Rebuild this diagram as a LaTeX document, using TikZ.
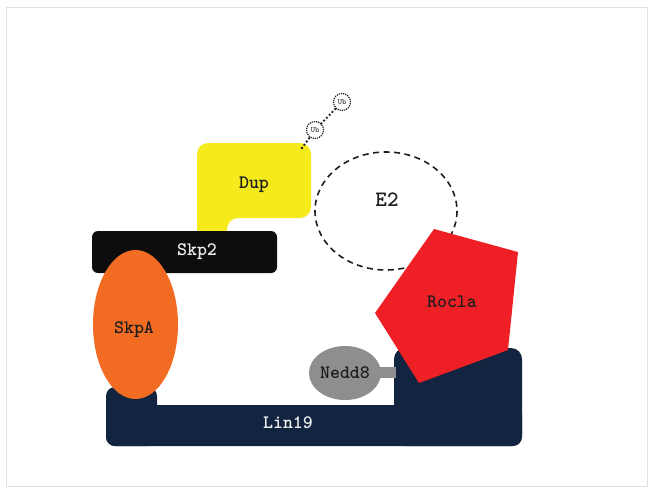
\documentclass[tikz,border=0pt]{standalone}
\usepackage{fontspec}
\definecolor{navy}{HTML}{12243F}
\definecolor{orangeA}{HTML}{F26B22}
\definecolor{yellowD}{HTML}{F4EA1C}
\definecolor{redR}{HTML}{EE2026}
\definecolor{grayN}{HTML}{8E8E8E}
\definecolor{frameC}{HTML}{E2E2E2}
\definecolor{inkC}{HTML}{1E1E1E}
\definecolor{paleC}{HTML}{EEEEEE}
\newcommand{\monobold}{\ttfamily\bfseries}
\tikzset{
  lbl/.style={inner sep=0pt, font=\fontsize{19}{21}\monobold, text=inkC},
  ubnode/.style={circle, draw=inkC, densely dotted, line width=1.2pt, minimum size=17pt, inner sep=0pt, font=\ttfamily\fontsize{8}{9}\selectfont, text=inkC},
  dotlink/.style={draw=inkC, line width=2.6pt, line cap=round, dash pattern=on 0pt off 4pt}
}
\begin{document}
\begin{tikzpicture}[x=1pt,y=-1pt]
\useasboundingbox (0,0) rectangle (653,493);
% frame
\draw[frameC, line width=1pt] (6,7) rectangle (647,486);
% E2 dashed ellipse
\draw[inkC, line width=1.6pt, dash pattern=on 6pt off 4.5pt] (386,211) ellipse [x radius=71, y radius=59];
\node[lbl, font=\fontsize{22}{24}\monobold] (e2) at (387,200) {E2};
% Lin19 base
\fill[navy, rounded corners=9] (106,387) rectangle (157,446);
\fill[navy, rounded corners=9] (106,405) rectangle (522,446);
\fill[navy, rounded corners=11] (394,348) rectangle (522,446);
\node[lbl, text=paleC] (lin19) at (288,423) {Lin19};
% Dup
\fill[yellowD, rounded corners=11] (197,245) -- (197,143) -- (311,143) -- (311,218) -- (227,218) -- (227,245) -- cycle;
\node[lbl] (dup) at (254,185) {Dup};
\coordinate (dupc) at (302,148);
% Skp2
\fill[black!95, rounded corners=6] (92,231) rectangle (277,273);
\node[lbl, text=paleC] (skp2) at (197,252) {Skp2};
% SkpA
\fill[orangeA] (135.5,324.5) ellipse [x radius=42.5, y radius=74.5];
\node[lbl] (skpa) at (134,330) {SkpA};
% Rocla
\fill[redR] (434,229) -- (518,252) -- (508,350) -- (419,383) -- (375,313) -- cycle;
\node[lbl] (rocla) at (452,302) {Rocla};
% Nedd8
\fill[grayN] (376,367) rectangle (396,378);
\fill[grayN] (345,373) ellipse [x radius=36, y radius=27];
\node[lbl] (nedd8) at (345,373) {Nedd8};
% Ub chain
\node[ubnode] (ub1) at (315,130) {Ub};
\node[ubnode] (ub2) at (342,102) {Ub};
\draw[dotlink] (dupc) -- (ub1);
\draw[dotlink] (ub1) -- (ub2);
\end{tikzpicture}
\end{document}
